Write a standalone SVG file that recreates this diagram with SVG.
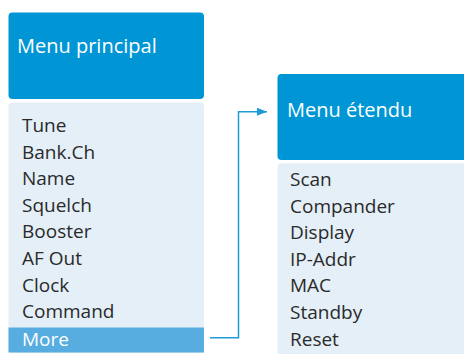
<svg xmlns="http://www.w3.org/2000/svg" width="464" height="354" viewBox="0 0 464 354">
<style>
.hdr{fill:#0096D6}
.lst{fill:#E5EFF8}
.sel{fill:#57ADE0}
.ht{font-family:"Open Sans","Noto Sans",sans-serif;font-size:20px;fill:#ffffff}
.it{font-family:"Open Sans","Noto Sans",sans-serif;font-size:19px;fill:#2a2a2a}
.its{font-family:"Open Sans","Noto Sans",sans-serif;font-size:19px;fill:#ffffff}
.con{fill:none;stroke:#1E9BD7;stroke-width:1.5}
</style>
<defs>
<marker id="ah" markerWidth="10" markerHeight="8" refX="10" refY="4" orient="auto" markerUnits="userSpaceOnUse">
<path d="M0,0 L10,4 L0,8 Z" fill="#1E9BD7"/>
</marker>
</defs>
<rect width="464" height="354" fill="#ffffff"/>
<g id="menu-principal">
<rect class="hdr" x="8.5" y="12.5" width="195.5" height="86.5" rx="4"/>
<text class="ht" x="17" y="53">Menu principal</text>
</g>
<g id="menu-principal-list">
<rect class="lst" x="8.5" y="102.5" width="195.5" height="250.5" rx="4"/>
<rect class="sel" x="8.5" y="327.5" width="195.5" height="25"/>
<text class="it" x="22" y="132">Tune</text>
<text class="it" x="22" y="158.6">Bank.Ch</text>
<text class="it" x="22" y="185.2">Name</text>
<text class="it" x="22" y="211.8">Squelch</text>
<text class="it" x="22" y="238.4">Booster</text>
<text class="it" x="22" y="265">AF Out</text>
<text class="it" x="22" y="291.6">Clock</text>
<text class="it" x="22" y="318.2">Command</text>
<text class="its" x="22" y="345.5">More</text>
</g>
<g id="menu-etendu">
<rect class="hdr" x="277.5" y="74" width="192" height="86" rx="4"/>
<text class="ht" x="287" y="117">Menu étendu</text>
</g>
<g id="menu-etendu-list">
<rect class="lst" x="277.5" y="163.3" width="192" height="200" rx="4"/>
<text class="it" x="290" y="186">Scan</text>
<text class="it" x="290" y="212.6">Compander</text>
<text class="it" x="290" y="239.2">Display</text>
<text class="it" x="290" y="265.8">IP-Addr</text>
<text class="it" x="290" y="292.4">MAC</text>
<text class="it" x="290" y="319">Standby</text>
<text class="it" x="290" y="345.6">Reset</text>
</g>
<g id="connectors">
<path class="con" d="M210,337.7 H238.5 V111.7 H267" marker-end="url(#ah)"/>
</g>
</svg>
